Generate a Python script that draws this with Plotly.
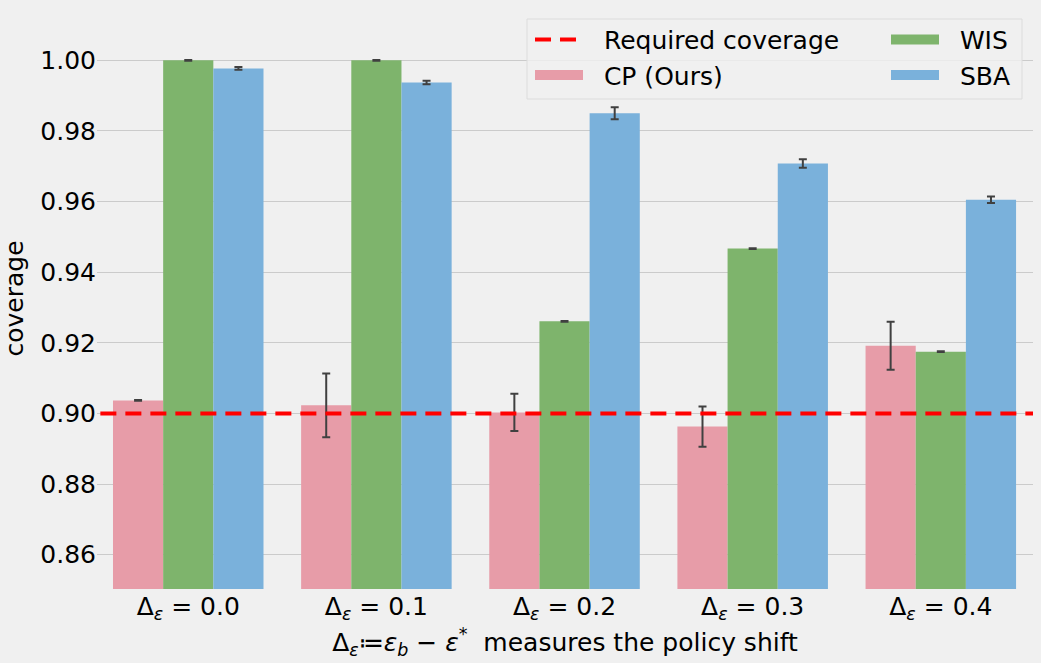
import plotly.graph_objects as go

# shift levels on the x axis
shifts = ["0.0", "0.1", "0.2", "0.3", "0.4"]
positions = [0, 1, 2, 3, 4]

# coverage per method
cp_cov = [0.9037, 0.9023, 0.9003, 0.8963, 0.9192]
cp_err = [0.0001, 0.0090, 0.0053, 0.0057, 0.0068]
wis_cov = [1.0000, 1.0000, 0.9261, 0.9467, 0.9175]
wis_err = [0.0001, 0.0001, 0.0001, 0.0001, 0.0001]
sba_cov = [0.9977, 0.9937, 0.9850, 0.9708, 0.9605]
sba_err = [0.0004, 0.0005, 0.0017, 0.0012, 0.0009]

required = 0.90

font = "DejaVu Sans"
fs = 25
err_style = dict(type="data", thickness=2, width=4, color="#404040")
colors = {"CP (Ours)": "#e79ca8", "WIS": "#7eb46c", "SBA": "#7ab1db"}
pad = "\u00a0\u00a0"  # gap between legend patch and label

fig = go.Figure()

fig.add_trace(go.Scatter(
    x=[-0.6, 4.6], y=[required, required], mode="lines",
    line=dict(color="#ff0000", width=4, dash="16px,9px"),
    name=pad + "Required coverage", legend="legend",
))
for name, vals, errs in [("CP (Ours)", cp_cov, cp_err),
                         ("WIS", wis_cov, wis_err),
                         ("SBA", sba_cov, sba_err)]:
    fig.add_trace(go.Bar(
        x=positions, y=vals, name=name, marker_color=colors[name],
        marker_line_width=0, showlegend=False,
        error_y=dict(array=errs, **err_style),
    ))

# wide patches for the legend, like matplotlib's rectangles
for name, lg in [("CP (Ours)", "legend"), ("WIS", "legend2"), ("SBA", "legend2")]:
    fig.add_trace(go.Scatter(
        x=[None], y=[None], mode="lines", name=pad + name, legend=lg,
        line=dict(color=colors[name], width=17),
    ))

leg = dict(bgcolor="rgba(0,0,0,0)", borderwidth=0, font=dict(size=fs),
           yanchor="top", xanchor="left", traceorder="normal", itemwidth=48)

fig.update_layout(
    width=1041, height=663,
    margin=dict(l=97, r=8, t=8, b=74),
    paper_bgcolor="#f0f0f0", plot_bgcolor="#f0f0f0",
    font=dict(family=font, size=fs, color="#000000"),
    barmode="group", bargap=0.2, bargroupgap=0,
    legend=dict(x=(530 - 97) / 936, y=0.985, **leg),
    legend2=dict(x=(886 - 97) / 936, y=0.985, **leg),
    shapes=[dict(
        type="rect", xref="paper", yref="paper",
        x0=(527 - 97) / 936, x1=(1022 - 97) / 936, y0=(589 - 99) / 581, y1=(589 - 19) / 581,
        fillcolor="rgba(240,240,240,0.8)", line=dict(color="#dcdcdc", width=1),
    )],
)
fig.update_xaxes(
    range=[-0.485, 4.49], tickvals=positions,
    ticktext=["Δ<sub><i>ε</i></sub> = " + s for s in shifts],
    showgrid=False, zeroline=False, ticks="", showline=False,
    title=dict(text="Δ<sub><i>ε</i></sub>≔<i>ε</i><sub><i>b</i></sub> − <i>ε</i><sup>*</sup>  measures the policy shift",
               font=dict(size=fs), standoff=4),
)
fig.update_yaxes(
    range=[0.8503, 1.0148], tickvals=[0.86, 0.88, 0.90, 0.92, 0.94, 0.96, 0.98, 1.00],
    tickformat=".2f", gridcolor="#cbcbcb", gridwidth=1.2, zeroline=False,
    ticks="", showline=False,
    title=dict(text="coverage", font=dict(size=fs), standoff=10),
)

fig.write_html(
    "out.html",
    config={"displayModeBar": False},
    post_script="document.body.style.margin='0';document.body.style.background='#f0f0f0';",
)
